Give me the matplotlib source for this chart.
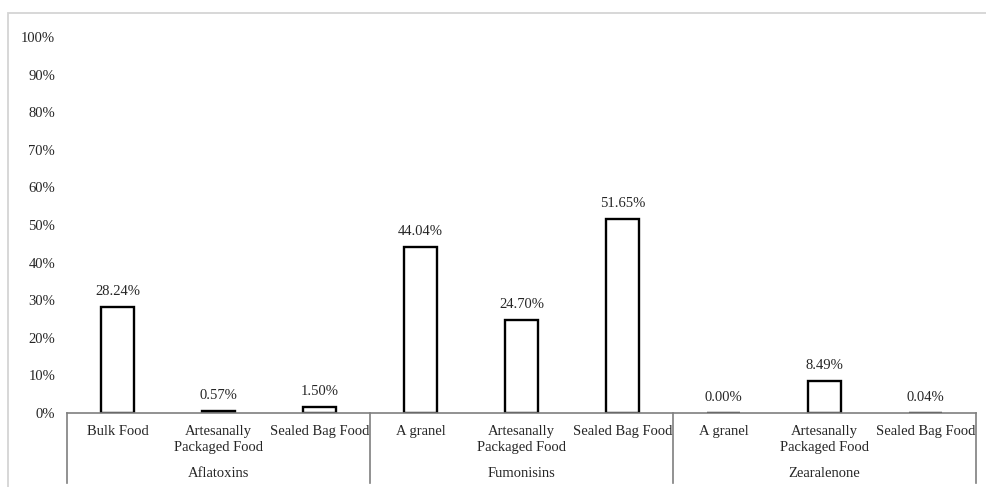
import matplotlib.pyplot as plt
from matplotlib.patches import Rectangle
import matplotlib.transforms as mtransforms

plt.rcParams['font.family'] = ['Liberation Serif', 'DejaVu Serif']
plt.rcParams['font.size'] = 10.5

groups = ['Aflatoxins', 'Fumonisins', 'Zearalenone']
categories = ['Bulk Food', 'Artesanally\nPackaged Food', 'Sealed Bag Food',
              'A granel', 'Artesanally\nPackaged Food', 'Sealed Bag Food',
              'A granel', 'Artesanally\nPackaged Food', 'Sealed Bag Food']
values = [28.24, 0.57, 1.50, 44.04, 24.70, 51.65, 0.00, 8.49, 0.04]
yticks = [0, 10, 20, 30, 40, 50, 60, 70, 80, 90, 100]

fig = plt.figure(figsize=(9.87, 4.87), dpi=100)
# light frame around the chart area (runs off the right and bottom edges)
fig.patches.append(Rectangle((8 / 987, -0.05), 1.0, 1 - 13 / 487 + 0.05,
                             transform=fig.transFigure, fill=False,
                             edgecolor='#d4d4d4', linewidth=1.3))

ax = fig.add_axes([67 / 987, 74 / 487, 909 / 987, 376 / 487])

x = [i + 0.5 for i in range(len(values))]
ax.bar(x, values, width=0.32, color='white', edgecolor='black', linewidth=1.7)

for xi, v in zip(x, values):
    ax.annotate('%.2f%%' % v, (xi, v), textcoords='offset pixels', xytext=(0, 9),
                ha='center', va='bottom', color='#262626')

ax.set_xlim(0, len(values))
ax.set_ylim(0, 100)
ax.set_yticks(yticks)
ax.set_yticklabels(['%d%%' % t for t in yticks], color='#262626')
ax.tick_params(axis='y', length=0, pad=8.5)
ax.set_xticks([])

for s in ['top', 'right', 'left']:
    ax.spines[s].set_visible(False)
ax.spines['bottom'].set_color('#7f7f7f')
ax.spines['bottom'].set_linewidth(1.2)

# two-level category axis
trans = mtransforms.blended_transform_factory(ax.transData, ax.transAxes)
for xi, cat in zip(x, categories):
    ax.text(xi, -0.033, cat, transform=trans, ha='center', va='top',
            color='#262626', linespacing=1.25)

for g, name in enumerate(groups):
    ax.text(g * 3 + 1.5, -0.16, name, transform=trans, ha='center', va='center',
            color='#262626')

for xb in range(0, len(values) + 1, 3):
    ax.plot([xb, xb], [0, -0.185], transform=trans, color='#7f7f7f',
            linewidth=1.2, clip_on=False)

fig.savefig('out.png', dpi=100)
